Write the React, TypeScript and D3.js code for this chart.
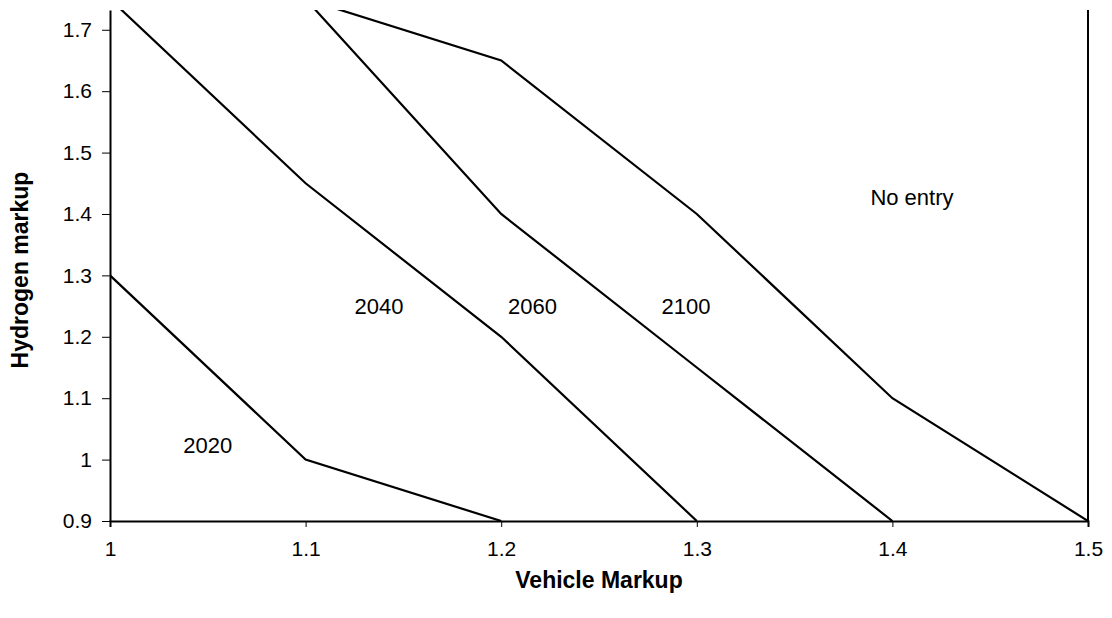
import React, { useEffect, useRef } from 'react';
import * as d3 from 'd3';

type Pt = [number, number];

const xTicks = [1, 1.1, 1.2, 1.3, 1.4, 1.5];
const yTicks = [0.9, 1, 1.1, 1.2, 1.3, 1.4, 1.5, 1.6, 1.7];

const line2020: Pt[] = [[1, 1.3], [1.1, 1.0], [1.2, 0.9]];
const line2040: Pt[] = [[1, 1.75], [1.1, 1.45], [1.2, 1.2], [1.3, 0.9]];
const line2060: Pt[] = [[1.1, 1.75], [1.2, 1.4], [1.3, 1.15], [1.4, 0.9]];
const line2100: Pt[] = [[1.1, 1.75], [1.2, 1.65], [1.3, 1.4], [1.4, 1.1], [1.5, 0.9]];

const regionLabels = ['2020', '2040', '2060', '2100', 'No entry'];
const labelX = [1.05, 1.1375, 1.216, 1.2945, 1.41];
const labelY = [1.02, 1.247, 1.247, 1.247, 1.424];

const App: React.FC = () => {
  const svgRef = useRef<SVGSVGElement | null>(null);

  useEffect(() => {
    const svg = d3.select(svgRef.current);
    svg.selectAll('*').remove();
    const width = 1112;
    const height = 618;
    const margin = { top: 10, right: 24, bottom: 97, left: 110 };
    const font = 'Arial, "Liberation Sans", sans-serif';

    const x = d3.scaleLinear().domain([1, 1.5]).range([margin.left, width - margin.right]);
    const y = d3.scaleLinear().domain([0.9, 1.7322]).range([height - margin.bottom, margin.top]);

    svg.append('defs').append('clipPath').attr('id', 'plot-clip')
      .append('rect')
      .attr('x', margin.left).attr('y', margin.top)
      .attr('width', width - margin.left - margin.right)
      .attr('height', height - margin.top - margin.bottom);

    // Lines.
    const line = d3.line<Pt>().x(d => x(d[0])).y(d => y(d[1]));
    svg.append('g')
      .attr('clip-path', 'url(#plot-clip)')
      .selectAll('path')
      .data([line2020, line2040, line2060, line2100])
      .enter()
      .append('path')
      .attr('d', d => line(d))
      .attr('fill', 'none')
      .attr('stroke', '#000')
      .attr('stroke-width', 2.2);

    // Right border.
    svg.append('line')
      .attr('x1', x(1.5)).attr('x2', x(1.5))
      .attr('y1', margin.top).attr('y2', height - margin.bottom)
      .attr('stroke', '#000').attr('stroke-width', 2);

    // X axis.
    const gx = svg.append('g')
      .attr('transform', `translate(0,${height - margin.bottom})`)
      .call(d3.axisBottom(x).tickValues(xTicks).tickSize(6).tickPadding(14).tickFormat(d => String(d)));
    gx.select('.domain').attr('stroke-width', 2);

    // Y axis.
    const gy = svg.append('g')
      .attr('transform', `translate(${margin.left},0)`)
      .call(d3.axisLeft(y).tickValues(yTicks).tickSize(8).tickSizeOuter(0).tickPadding(10).tickFormat(d => String(d)));
    gy.select('.domain').attr('stroke-width', 2);

    svg.selectAll('.tick text')
      .attr('font-family', font)
      .attr('font-size', 21)
      .attr('fill', '#000');

    // Region labels.
    svg.append('g')
      .selectAll('text')
      .data(regionLabels)
      .enter()
      .append('text')
      .attr('x', (d, i) => x(labelX[i]))
      .attr('y', (d, i) => y(labelY[i]))
      .attr('text-anchor', 'middle')
      .attr('dominant-baseline', 'middle')
      .attr('font-family', font)
      .attr('font-size', 22)
      .text(d => d);

    // X axis label
    svg.append('text')
      .attr('text-anchor', 'middle')
      .attr('x', x(1.25))
      .attr('y', 588)
      .attr('font-family', font)
      .attr('font-size', 23)
      .attr('font-weight', 'bold')
      .text('Vehicle Markup');

    // Y axis label
    svg.append('text')
      .attr('text-anchor', 'middle')
      .attr('x', -270)
      .attr('y', 28)
      .attr('transform', 'rotate(-90)')
      .attr('font-family', font)
      .attr('font-size', 23)
      .attr('font-weight', 'bold')
      .text('Hydrogen markup');
  }, []);

  return (
    <svg ref={svgRef} width={1112} height={618}
      style={{ position: 'absolute', left: 0, top: 0, background: '#fff' }} />
  );
};

export default App;
